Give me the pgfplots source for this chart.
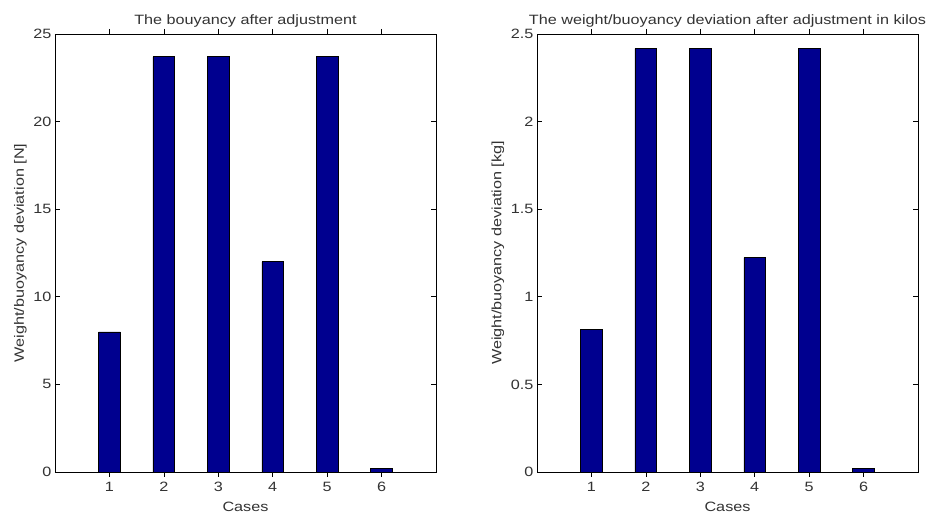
\documentclass[border=0pt]{standalone}
\usepackage{pgfplots}
\pgfplotsset{compat=1.18}
\usepackage{fontspec}
\setmainfont{Liberation Sans}[FakeStretch=1.2]
\definecolor{mbar}{RGB}{0,0,143}
\pgfplotsset{
  mstyle/.style={
    scale only axis,
    width=381pt, height=438pt,
    xmin=0, xmax=7,
    ymin=0,
    xtick={1,2,3,4,5,6},
    tick align=inside,
    xtick pos=both, ytick pos=both,
    major tick length=5pt,
    axis line style={black, line width=0.8pt},
    every tick/.style={black, line width=0.6pt},
    /pgf/number format/assume math mode=true,
    tick label style={font=\fontsize{13.5}{15}\selectfont, text=black!80},
    xticklabel style={yshift=-2pt},
    label style={font=\fontsize{13.5}{15}\selectfont, text=black!80},
    xlabel style={yshift=-3pt},
    title style={font=\fontsize{13.5}{15}\selectfont, text=black!80, yshift=-3pt},
    xlabel={Cases},
    ybar, bar width=0.4, bar shift=0pt,
  }
}
\begin{document}
\begin{tikzpicture}[x=1pt,y=1pt]
\path[use as bounding box, fill=white] (0,0) rectangle (929,516);
\begin{axis}[mstyle, at={(55pt,44pt)}, anchor=south west,
  ymax=25, ytick={0,5,10,15,20,25},
  title={The bouyancy after adjustment},
  ylabel={Weight/buoyancy deviation [N]},
  yticklabel style={/pgf/number format/fixed}]
\addplot[fill=mbar, draw=black, line width=0.6pt] coordinates {(1,8.0) (2,23.7) (3,23.7) (4,12.0) (5,23.7) (6,0.2)};
\end{axis}
\begin{axis}[mstyle, at={(537pt,44pt)}, anchor=south west,
  ymax=2.5, ytick={0,0.5,1,1.5,2,2.5},
  title={The weight/buoyancy deviation after adjustment in kilos},
  ylabel={Weight/buoyancy deviation [kg]},
  yticklabel style={/pgf/number format/fixed}]
\addplot[fill=mbar, draw=black, line width=0.6pt] coordinates {(1,0.8155) (2,2.416) (3,2.416) (4,1.223) (5,2.416) (6,0.0204)};
\end{axis}
\end{tikzpicture}
\end{document}
